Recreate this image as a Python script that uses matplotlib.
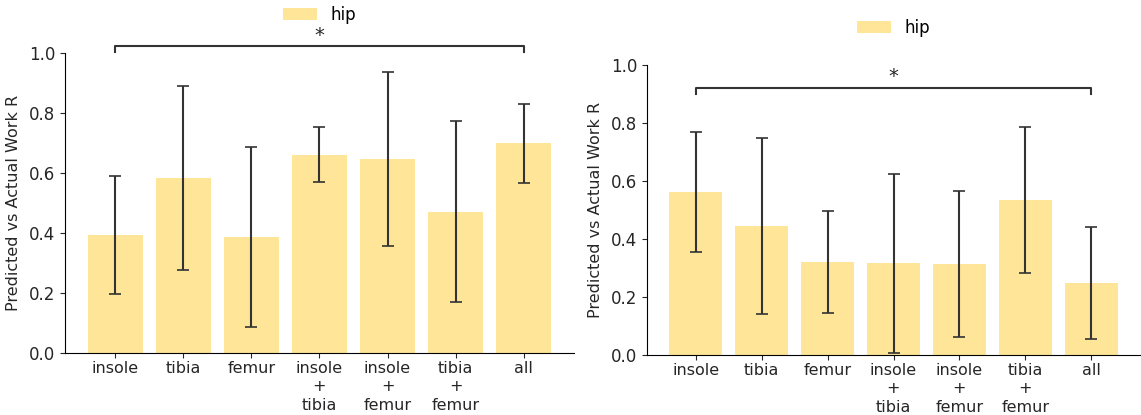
import matplotlib.pyplot as plt
import numpy as np

categories = ["insole", "tibia", "femur", "insole\n+\ntibia", "insole\n+\nfemur", "tibia\n+\nfemur", "all"]

left_means = [0.393, 0.583, 0.387, 0.661, 0.647, 0.471, 0.699]
left_err = [0.196, 0.306, 0.300, 0.091, 0.290, 0.302, 0.131]

right_means = [0.563, 0.445, 0.322, 0.316, 0.313, 0.534, 0.249]
right_err = [0.207, 0.303, 0.176, 0.309, 0.252, 0.251, 0.193]

BAR_COLOR = "#fee598"
TXT = "#262626"
W, H = 1141, 415


def panel(ax, means, errs, bracket_y, tick_y, star_y, legend_y):
    x = np.arange(len(categories))
    ax.bar(x, means, width=0.8, color=BAR_COLOR, label="hip",
           yerr=errs, capsize=4, error_kw=dict(ecolor="#333333", elinewidth=1.5, capthick=1.2))
    ax.set_xticks(x)
    ax.set_xticklabels(categories, fontsize=11.5, color=TXT, linespacing=1.3)
    ax.set_ylim(0, 1.0)
    ax.set_xlim(-0.74, 6.74)
    ax.set_yticks([0, 0.2, 0.4, 0.6, 0.8, 1.0])
    ax.set_yticklabels(["0.0", "0.2", "0.4", "0.6", "0.8", "1.0"], fontsize=12, color=TXT)
    ax.set_ylabel("Predicted vs Actual Work R", fontsize=11.5, color=TXT, labelpad=6)
    ax.spines["top"].set_visible(False)
    ax.spines["right"].set_visible(False)
    ax.tick_params(colors=TXT)
    ax.tick_params(axis="x", pad=2)
    # significance bracket
    ax.plot([0, 0, 6, 6], [tick_y, bracket_y, bracket_y, tick_y], color="#333333", lw=1.5, clip_on=False)
    ax.text(3, star_y, "*", ha="center", va="center", fontsize=14, color=TXT)
    ax.legend(loc="center", bbox_to_anchor=(0.5, legend_y), frameon=False, fontsize=12,
              handlelength=2.0, handleheight=0.7)


fig = plt.figure(figsize=(W / 100, H / 100), dpi=100)

ax1 = fig.add_axes([65 / W, 1 - 353 / H, (574 - 65) / W, (353 - 53) / H])
panel(ax1, left_means, left_err, 1.023, 1.003, 1.06, 1.127)

ax2 = fig.add_axes([647 / W, 1 - 355 / H, (1140 - 647) / W, (355 - 65) / H])
panel(ax2, right_means, right_err, 0.92, 0.90, 0.96, 1.128)

fig.savefig("out.png", dpi=100)
